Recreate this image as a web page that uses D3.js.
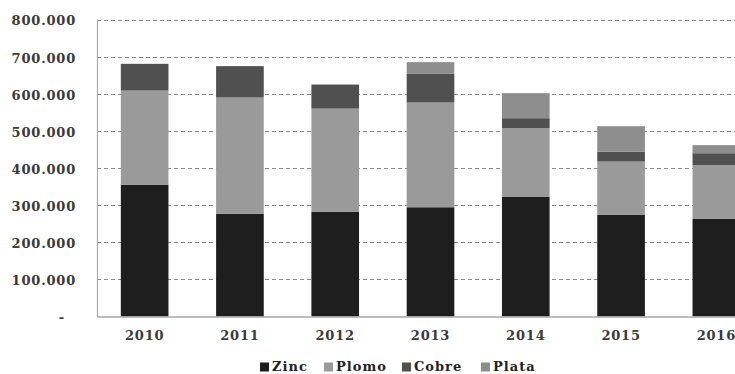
<!DOCTYPE html>
<html>
<head>
<meta charset="utf-8">
<script src="https://cdn.jsdelivr.net/npm/d3@7"></script>
<style>
  html, body { margin: 0; padding: 0; background: #ffffff; }
  svg { display: block; }
  text { font-family: "DejaVu Serif", serif; font-weight: bold; }
</style>
</head>
<body>
<svg id="chart" width="735" height="374"></svg>
<script>
// Production by year (tonnes)
const years = ["2010", "2011", "2012", "2013", "2014", "2015", "2016"];
const zinc  = [355300, 276300, 281700, 294300, 323000, 273600, 263600];
const plomo = [253300, 313500, 278400, 282000, 184300, 143700, 143900];
const cobre = [72000, 84600, 64700, 77300, 26900, 26900, 32400];
const plata = [0, 0, 0, 31600, 67400, 68400, 21600];
const seriesNames = ["Zinc", "Plomo", "Cobre", "Plata"];
const yTicks = [0, 100000, 200000, 300000, 400000, 500000, 600000, 700000, 800000];

const colors = { Zinc: "#1e1e1e", Plomo: "#9a9a9a", Cobre: "#505050", Plata: "#8e8e8e" };

const rows = years.map((yr, i) => ({
  year: yr, Zinc: zinc[i], Plomo: plomo[i], Cobre: cobre[i], Plata: plata[i]
}));

const svg = d3.select("#chart");
const plotLeft = 97, plotRight = 764, plotTop = 19.5, plotBottom = 316.5;

const x = d3.scaleBand().domain(years).range([plotLeft, plotRight])
  .paddingInner(0.5).paddingOuter(0.25);
const y = d3.scaleLinear().domain([0, 800000]).range([plotBottom, plotTop]);

const fmt = v => v === 0 ? "-" : d3.format(",")(v).replace(/,/g, ".");

// Dashed horizontal gridlines
svg.append("g").selectAll("line")
  .data(yTicks.filter(t => t > 0))
  .join("line")
  .attr("x1", plotLeft).attr("x2", 735)
  .attr("y1", d => Math.round(y(d)) + 0.5).attr("y2", d => Math.round(y(d)) + 0.5)
  .attr("stroke", "#8a8a8a").attr("stroke-width", 1)
  .attr("stroke-dasharray", "4,3");

// Stacked bars
const stacked = d3.stack().keys(seriesNames)(rows);
svg.append("g").selectAll("g")
  .data(stacked)
  .join("g")
  .attr("fill", d => colors[d.key])
  .selectAll("rect")
  .data(d => d)
  .join("rect")
  .attr("x", d => x(d.data.year))
  .attr("width", x.bandwidth())
  .attr("y", d => y(d[1]))
  .attr("height", d => Math.max(0, y(d[0]) - y(d[1])));

// Left axis line and baseline
svg.append("line")
  .attr("x1", plotLeft + 0.5).attr("x2", plotLeft + 0.5)
  .attr("y1", plotTop).attr("y2", plotBottom + 0.5)
  .attr("stroke", "#a8a8a8").attr("stroke-width", 1.2);
svg.append("line")
  .attr("x1", plotLeft).attr("x2", 735)
  .attr("y1", plotBottom + 0.5).attr("y2", plotBottom + 0.5)
  .attr("stroke", "#a8a8a8").attr("stroke-width", 1.5);

// Y axis labels
const yAxis = d3.axisLeft(y).tickValues(yTicks).tickFormat(fmt)
  .tickSize(0).tickPadding(21);
const gy = svg.append("g").attr("transform", `translate(${plotLeft},0)`).call(yAxis);
gy.select(".domain").remove();
gy.selectAll("text")
  .attr("font-family", "DejaVu Serif, serif")
  .attr("font-size", 13).attr("font-weight", "bold")
  .attr("letter-spacing", 0.8)
  .attr("fill", "#3a3a3a")
  .attr("dy", "0.42em")
  .attr("dx", d => d === 0 ? -11 : 0);

// X axis labels
const xAxis = d3.axisBottom(x).tickSize(0).tickPadding(14);
const gx = svg.append("g").attr("transform", `translate(0,${plotBottom})`).call(xAxis);
gx.select(".domain").remove();
gx.selectAll("text")
  .attr("font-family", "DejaVu Serif, serif")
  .attr("font-size", 13).attr("font-weight", "bold")
  .attr("letter-spacing", 0.8)
  .attr("fill", "#3a3a3a");

// Legend
const legendX = [260, 324, 402, 481];
const legend = svg.append("g").selectAll("g")
  .data(seriesNames)
  .join("g")
  .attr("transform", (d, i) => `translate(${legendX[i]},0)`);
legend.append("rect")
  .attr("x", 0).attr("y", 362.5).attr("width", 9).attr("height", 9)
  .attr("fill", d => colors[d]);
legend.append("text")
  .attr("x", 12).attr("y", 370.5)
  .attr("font-size", 13).attr("letter-spacing", 1)
  .attr("fill", "#222")
  .text(d => d);
</script>
</body>
</html>
